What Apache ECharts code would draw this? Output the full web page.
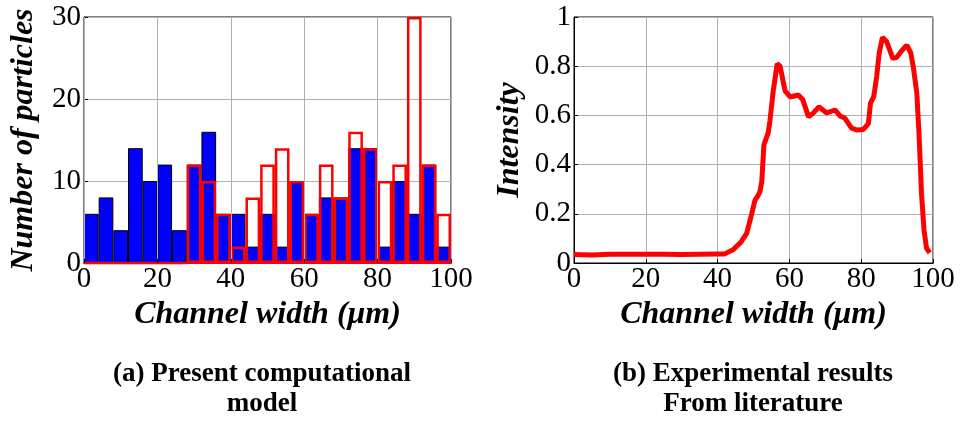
<!DOCTYPE html>
<html>
<head>
<meta charset="utf-8">
<title>Particles vs intensity</title>
<script src="https://cdn.jsdelivr.net/npm/echarts@6/dist/echarts.min.js"></script>
<style>
  html, body { margin: 0; padding: 0; background: #fff; }
  #chart { width: 962px; height: 424px; }
</style>
</head>
<body>
<div id="chart"></div>
<script>
// histogram bins, 4 um wide, centres
var binCentres = [2, 6, 10, 14, 18, 22, 26, 30, 34, 38, 42, 46, 50, 54, 58, 62, 66, 70, 74, 78, 82, 86, 90, 94, 98];
// (a) computational model - blue filled bars
var modelCounts = [6, 8, 4, 14, 10, 12, 4, 12, 16, 6, 6, 2, 6, 2, 10, 6, 8, 8, 14, 14, 2, 10, 6, 12, 2];
// (a) second set - red outlined bars
var outlineCounts = [0, 0, 0, 0, 0, 0, 0, 12, 10, 6, 2, 8, 12, 14, 10, 6, 12, 8, 16, 14, 10, 12, 30, 12, 6];

// (b) experimental intensity profile
var expX = [0, 5, 10, 15, 20, 25, 30, 35, 40, 42, 44.4, 46.5, 48.1, 49.5, 50.4, 51.3, 51.8, 52.3, 52.9, 54.1,
  54.6, 55.5, 56.6, 57.4, 58.8, 60.2, 62.5, 63.7, 65.3, 66.7, 68.2, 70.4, 72.7, 74.1, 75.5, 77.3, 78.7,
  80.6, 82.0, 82.6, 83.5, 84.3, 85.0, 85.9, 87.1, 88.8, 89.9, 91.3, 92.7, 93.8, 94.5, 95.5, 96.1, 96.8,
  97.5, 98.2, 99.1];
var expY = [0.035, 0.033, 0.036, 0.036, 0.036, 0.036, 0.035, 0.036, 0.037, 0.037, 0.055, 0.085, 0.12, 0.2,
  0.255, 0.275, 0.29, 0.33, 0.48, 0.53, 0.58, 0.70, 0.81, 0.80, 0.70, 0.675, 0.683, 0.665, 0.595, 0.61,
  0.635, 0.61, 0.622, 0.598, 0.588, 0.548, 0.541, 0.543, 0.567, 0.65, 0.676, 0.757, 0.852, 0.917, 0.9,
  0.832, 0.836, 0.863, 0.886, 0.855, 0.798, 0.69, 0.527, 0.283, 0.134, 0.06, 0.042];

var xTicks = [0, 20, 40, 60, 80, 100];

var serif = 'Liberation Serif, Times New Roman, serif';
var tickFont = { fontFamily: serif, fontSize: 29, color: '#000' };
var nameFont = { fontFamily: serif, fontSize: 32, fontWeight: 'bold', fontStyle: 'italic', color: '#000' };
var gridLine = { show: true, lineStyle: { color: '#b0b0b0', width: 1, type: 'solid' } };

var expData = expX.map(function (x, i) { return [x, expY[i]]; });

var chart = echarts.init(document.getElementById('chart'));
chart.setOption({
  backgroundColor: '#fff',
  animation: false,
  grid: [
    { left: 84, top: 17, width: 367, height: 246, show: true, borderColor: '#000', borderWidth: 1 },
    { left: 574, top: 17, width: 359, height: 246, show: true, borderColor: '#000', borderWidth: 1 }
  ],
  xAxis: [
    {
      type: 'value', gridIndex: 0, min: 0, max: 100, interval: 20,
      name: 'Channel width (\u03bcm)', nameLocation: 'middle', nameGap: 36, nameTextStyle: nameFont,
      axisLine: { show: true, lineStyle: { color: '#ff0000', width: 2 } },
      axisTick: { show: true, inside: true, length: 4, lineStyle: { color: '#000' } },
      axisLabel: Object.assign({ margin: 2, formatter: function (v) { return xTicks.indexOf(v) >= 0 ? v : ''; } }, tickFont),
      splitLine: gridLine, z: 5
    },
    {
      type: 'category', gridIndex: 0, data: binCentres, boundaryGap: true,
      show: false
    },
    {
      type: 'value', gridIndex: 1, min: 0, max: 100, interval: 20,
      name: 'Channel width (\u03bcm)', nameLocation: 'middle', nameGap: 36, nameTextStyle: nameFont,
      axisLine: { show: true, lineStyle: { color: '#000', width: 1 } },
      axisTick: { show: true, inside: true, length: 4, lineStyle: { color: '#000' } },
      axisLabel: Object.assign({ margin: 2 }, tickFont),
      splitLine: gridLine
    }
  ],
  yAxis: [
    {
      type: 'value', gridIndex: 0, min: 0, max: 30, interval: 10,
      name: 'Number of particles', nameLocation: 'middle', nameGap: 44, nameTextStyle: nameFont,
      axisLine: { show: true, lineStyle: { color: '#000', width: 1 } },
      axisTick: { show: true, inside: true, length: 4, lineStyle: { color: '#000' } },
      axisLabel: Object.assign({ margin: 3 }, tickFont),
      splitLine: gridLine
    },
    {
      type: 'value', gridIndex: 1, min: 0, max: 1, interval: 0.2,
      name: 'Intensity', nameLocation: 'middle', nameGap: 48, nameTextStyle: nameFont,
      axisLine: { show: true, lineStyle: { color: '#000', width: 1 } },
      axisTick: { show: true, inside: true, length: 4, lineStyle: { color: '#000' } },
      axisLabel: Object.assign({ margin: 3, formatter: function (v) { return v === 0 || v === 1 ? String(v) : v.toFixed(1); } }, tickFont),
      splitLine: gridLine
    }
  ],
  series: [
    {
      name: 'model', type: 'bar', xAxisIndex: 1, yAxisIndex: 0,
      data: modelCounts, barWidth: '100%', barGap: '-100%',
      itemStyle: { color: '#0000ff', borderColor: '#000', borderWidth: 1 }
    },
    {
      name: 'outline', type: 'bar', xAxisIndex: 1, yAxisIndex: 0,
      data: outlineCounts, barWidth: '100%', barGap: '-100%',
      itemStyle: { color: 'rgba(0,0,0,0)', borderColor: '#ff0000', borderWidth: 2.5 }
    },
    {
      name: 'intensity', type: 'line', xAxisIndex: 2, yAxisIndex: 1,
      data: expData, showSymbol: false, smooth: false,
      lineStyle: { color: '#ff0000', width: 5 }
    }
  ],
  graphic: [
    {
      type: 'text', x: 262, y: 359,
      style: { text: '(a) Present computational\nmodel', textAlign: 'center', fill: '#000',
        font: 'bold 27px ' + serif, lineHeight: 30 }
    },
    {
      type: 'text', x: 753, y: 359,
      style: { text: '(b) Experimental results\nFrom literature', textAlign: 'center', fill: '#000',
        font: 'bold 27px ' + serif, lineHeight: 30 }
    }
  ]
});
</script>
</body>
</html>
